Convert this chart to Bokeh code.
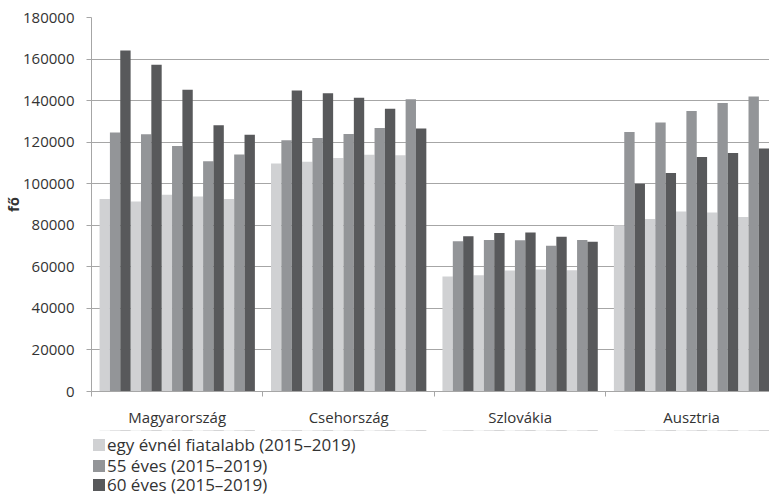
from bokeh.plotting import figure
from bokeh.layouts import column
from bokeh.models import (ColumnDataSource, Range1d, FixedTicker, Legend, LegendItem,
                          BasicTickFormatter)
from bokeh.embed import file_html
from bokeh.resources import INLINE

countries = ["Magyarország", "Csehország", "Szlovákia", "Ausztria"]
years = [2015, 2016, 2017, 2018, 2019]
series_names = ["egy évnél fiatalabb (2015–2019)", "55 éves (2015–2019)", "60 éves (2015–2019)"]

under1 = [
    [92700, 91500, 94700, 93900, 92700],
    [109700, 110600, 112400, 114000, 113700],
    [55300, 56000, 58200, 58700, 58400],
    [80000, 83000, 86600, 86100, 84000],
]
age55 = [
    [124700, 123800, 118200, 110800, 114100],
    [120900, 122000, 123900, 126800, 140700],
    [72300, 72900, 72800, 70200, 72900],
    [124900, 129500, 135000, 138800, 142000],
]
age60 = [
    [164100, 157300, 145200, 128100, 123600],
    [144900, 143600, 141400, 136100, 126600],
    [74700, 76300, 76500, 74500, 72100],
    [100000, 105200, 112900, 114800, 117000],
]
colors = ["#d0d1d3", "#939598", "#58595b"]

FONT = "Open Sans"
GRAY = "#a6a6a6"
TXT = "#333333"
XMAX = 3.9546

p = figure(width=769, height=430, output_backend="svg", toolbar_location=None,
           x_range=Range1d(0, XMAX), y_range=Range1d(0, 180000),
           min_border_left=90, min_border_right=0, min_border_top=17, min_border_bottom=39)
p.outline_line_color = None

edge = 0.047
bw = (1 - 2 * edge) / 15
sources = []
for s, data in enumerate([under1, age55, age60]):
    xs, tops = [], []
    for g in range(len(countries)):
        for i in range(len(years)):
            k = 3 * i + s
            xs.append(g + edge + (k + 0.5) * bw)
            tops.append(data[g][i])
    src = ColumnDataSource(dict(x=xs, top=tops))
    sources.append(src)
    p.vbar(x="x", top="top", width=bw, bottom=0, source=src,
           fill_color=colors[s], line_color=None)

p.xgrid.visible = False
p.ygrid.grid_line_color = GRAY
p.ygrid.grid_line_width = 1

xa = p.xaxis[0]
xa.ticker = FixedTicker(ticks=[0.5, 1.5, 2.5, 3.5], minor_ticks=[0, 1, 2, 3, 4])
xa.major_label_overrides = {0.5: countries[0], 1.5: countries[1], 2.5: countries[2], 3.5: countries[3]}
xa.major_tick_line_color = None
xa.major_tick_out = 5
xa.major_tick_in = 0
xa.minor_tick_out = 5
xa.minor_tick_in = 0
xa.minor_tick_line_color = GRAY
xa.axis_line_color = GRAY
xa.major_label_standoff = 10
xa.major_label_text_font = FONT
xa.major_label_text_font_size = "15px"
xa.major_label_text_color = TXT

ya = p.yaxis[0]
ya.ticker = FixedTicker(ticks=list(range(0, 180001, 20000)))
ya.formatter = BasicTickFormatter(use_scientific=False)
ya.major_tick_out = 5
ya.major_tick_in = 0
ya.minor_tick_line_color = None
ya.major_tick_line_color = GRAY
ya.axis_line_color = GRAY
ya.major_label_standoff = 12
ya.major_label_text_font = FONT
ya.major_label_text_font_size = "15px"
ya.major_label_text_color = TXT
ya.axis_label = "fő"
ya.axis_label_text_font = FONT
ya.axis_label_text_font_size = "15px"
ya.axis_label_text_font_style = "bold"
ya.axis_label_text_color = TXT
ya.axis_label_standoff = -3

# legend strip below the chart (same series, drawn outside its visible y window)
q = figure(width=769, height=66, output_backend="svg", toolbar_location=None,
           x_range=Range1d(0, XMAX), y_range=Range1d(-2, -1),
           min_border_left=90, min_border_right=0, min_border_top=0, min_border_bottom=0)
q.axis.visible = False
q.grid.visible = False
q.outline_line_color = None

row_vy = [40, 19, 0]
for s in range(3):
    r = q.vbar(x="x", top="top", width=bw, bottom=0, source=sources[s],
               fill_color=colors[s], line_color=None)
    lg = Legend(items=[LegendItem(label=series_names[s], renderers=[r])],
                orientation="vertical", location=(0, row_vy[s]))
    lg.margin = 0
    lg.padding = 0
    lg.spacing = 0
    lg.glyph_width = 15
    lg.glyph_height = 15
    lg.label_height = 23
    lg.label_standoff = 1
    lg.label_text_font = FONT
    lg.label_text_font_size = "17px"
    lg.label_text_color = TXT
    lg.border_line_color = None
    lg.background_fill_alpha = 0
    q.add_layout(lg, "center")

open("out.html", "w").write(file_html(column(p, q, spacing=0), INLINE))
